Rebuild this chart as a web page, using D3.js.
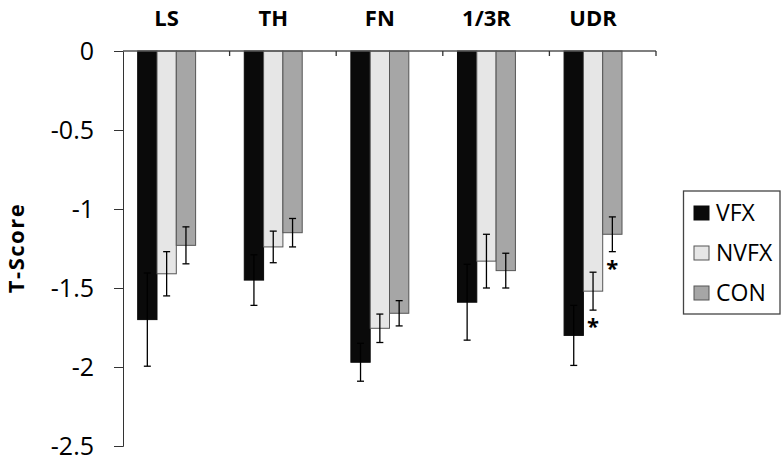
<!DOCTYPE html>
<html>
<head>
<meta charset="utf-8">
<script src="https://cdn.jsdelivr.net/npm/d3@7"></script>
<style>
  html, body { margin: 0; padding: 0; background: #fff; }
  svg { display: block; font-family: "Open Sans", "Liberation Sans", sans-serif; }
</style>
</head>
<body>
<svg id="chart" width="783" height="461"></svg>
<script>
const categories = ["LS", "TH", "FN", "1/3R", "UDR"];
const seriesNames = ["VFX", "NVFX", "CON"];
const vfx      = [-1.70, -1.45, -1.97, -1.59, -1.80];
const vfxErr   = [0.295, 0.16, 0.12, 0.24, 0.19];
const nvfx     = [-1.41, -1.24, -1.755, -1.33, -1.52];
const nvfxErr  = [0.14, 0.10, 0.09, 0.17, 0.12];
const con      = [-1.23, -1.15, -1.66, -1.39, -1.16];
const conErr   = [0.117, 0.09, 0.08, 0.11, 0.11];
const yTicks   = [0, -0.5, -1, -1.5, -2, -2.5];
const yTickLabels = ["0", "-0.5", "-1", "-1.5", "-2", "-2.5"];
// significance markers: [category, series]
const significance = [["UDR", "NVFX"], ["UDR", "CON"]];

(function () {
const seriesValues = [vfx, nvfx, con];
const seriesErrors = [vfxErr, nvfxErr, conErr];
const fills = ["#0a0a0a", "#e6e6e6", "#a6a6a6"];
const strokes = ["#0a0a0a", "#555555", "#555555"];

const svg = d3.select("#chart");
const mLeft = 123, mRight = 656, mTop = 51, mBottom = 446;

const y = d3.scaleLinear().domain([0, -2.5]).range([mTop, mBottom]);
const x0 = d3.scaleBand().domain(categories).range([mLeft, mRight]).paddingInner(0).paddingOuter(0);
const x1 = d3.scaleBand().domain([0, 1, 2, 3]).range([0, x0.bandwidth()]).paddingInner(0).paddingOuter(0.76);

const data = [];
categories.forEach((c, ci) => {
  seriesNames.forEach((s, si) => {
    data.push({ c, s, si, v: seriesValues[si][ci], e: seriesErrors[si][ci] });
  });
});

// bars
svg.append("g").selectAll("rect").data(data).join("rect")
  .attr("x", d => x0(d.c) + x1(d.si))
  .attr("y", d => y(0))
  .attr("width", x1.bandwidth())
  .attr("height", d => y(d.v) - y(0))
  .attr("fill", d => fills[d.si])
  .attr("stroke", d => strokes[d.si])
  .attr("stroke-width", 1);

// error bars
const eg = svg.append("g").attr("stroke", "#000").attr("stroke-width", 1.3);
data.forEach(d => {
  const cx = x0(d.c) + x1(d.si) + x1.bandwidth() / 2;
  const y1 = y(d.v + d.e), y2 = y(d.v - d.e);
  eg.append("line").attr("x1", cx).attr("x2", cx).attr("y1", y1).attr("y2", y2);
  eg.append("line").attr("x1", cx - 3.5).attr("x2", cx + 3.5).attr("y1", y1).attr("y2", y1);
  eg.append("line").attr("x1", cx - 3.5).attr("x2", cx + 3.5).attr("y1", y2).attr("y2", y2);
});

// significance asterisks
significance.forEach(([c, s]) => {
  const ci = categories.indexOf(c), si = seriesNames.indexOf(s);
  const d = { v: seriesValues[si][ci], e: seriesErrors[si][ci] };
  svg.append("text")
    .attr("x", x0(c) + x1(si) + x1.bandwidth() / 2)
    .attr("y", y(d.v - d.e) + 24)
    .attr("text-anchor", "middle")
    .style("font-size", "22px")
    .style("font-weight", "bold")
    .text("*");
});

// y axis
const yAxis = d3.axisLeft(y).tickValues(yTicks).tickSize(9).tickPadding(20)
  .tickFormat((d, i) => yTickLabels[i]);
const yg = svg.append("g").attr("transform", `translate(${mLeft},0)`).call(yAxis)
  .attr("font-size", null).attr("font-family", null);
yg.select(".domain").attr("stroke", "#333");
yg.selectAll(".tick line").attr("stroke", "#333");
yg.selectAll(".tick text").style("font-size", "25px").attr("fill", "#000");

// x axis at zero (ticks pointing down, between groups)
const xg = svg.append("g").attr("transform", `translate(0,${y(0)})`);
xg.append("line").attr("x1", mLeft).attr("x2", mRight).attr("stroke", "#555").attr("stroke-width", 1.3);
const boundaries = categories.map(c => x0(c) + x0.bandwidth());
xg.selectAll("line.tk").data(boundaries).join("line").attr("class", "tk")
  .attr("x1", d => d).attr("x2", d => d).attr("y1", 0).attr("y2", 5)
  .attr("stroke", "#333").attr("stroke-width", 1.3);

// category labels on top
svg.append("g").selectAll("text").data(categories).join("text")
  .attr("x", c => x0(c) + x1(0) + 1.5 * x1.bandwidth())
  .attr("y", 26)
  .attr("text-anchor", "middle")
  .style("font-size", "22px")
  .style("font-weight", "bold")
  .text(c => c);

// y label
svg.append("text")
  .attr("transform", "translate(24,248) rotate(-90)")
  .attr("text-anchor", "middle")
  .style("font-size", "22px")
  .style("font-weight", "bold")
  .style("letter-spacing", "1.5px")
  .text("T-Score");

// legend
const lg = svg.append("g");
lg.append("rect").attr("x", 683.5).attr("y", 191).attr("width", 96.5).attr("height", 123)
  .attr("fill", "#fff").attr("stroke", "#444").attr("stroke-width", 1.3);
seriesNames.forEach((s, i) => {
  const cy = 213 + i * 40;
  lg.append("rect").attr("x", 694).attr("y", cy - 7).attr("width", 15).attr("height", 14)
    .attr("fill", fills[i]).attr("stroke", strokes[i]).attr("stroke-width", 1);
  lg.append("text").attr("x", 716).attr("y", cy).attr("dy", "0.36em")
    .style("font-size", "23px").text(s);
});
})();
</script>
</body>
</html>
